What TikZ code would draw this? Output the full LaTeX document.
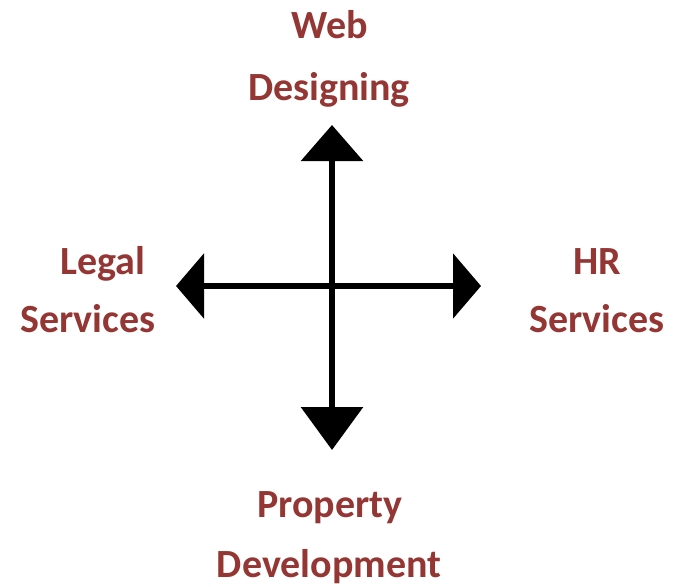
\documentclass[tikz,border=0pt]{standalone}
\usepackage{fontspec}
\setmainfont{Carlito}
\usetikzlibrary{arrows.meta}
\definecolor{lblred}{HTML}{943634}
\begin{document}
\begin{tikzpicture}[x=1pt,y=-1pt,
  lbl/.style={anchor=base,inner sep=0pt,text=lblred,font=\fontsize{40}{48}\selectfont\bfseries},
  axis/.style={line width=6.5pt,black}]
\useasboundingbox (0,0) rectangle (679,586);
\coordinate (c) at (332,286);
\coordinate (top) at (332,125);
\coordinate (bot) at (332,450);
\coordinate (lft) at (176,286);
\coordinate (rgt) at (481,286);
\draw[axis,-{Triangle[length=36pt,width=61pt]}] (c) -- (top);
\draw[axis,-{Triangle[length=43pt,width=61pt]}] (c) -- (bot);
\draw[axis,-{Triangle[length=28pt,width=64pt]}] (c) -- (lft);
\draw[axis,-{Triangle[length=28pt,width=64pt]}] (c) -- (rgt);
\node[lbl] (web1) at (330,39) {Web};
\node[lbl] (web2) at (329,100) {Designing};
\node[lbl] (leg1) at (103,274) {Legal};
\node[lbl] (leg2) at (88,332) {Services};
\node[lbl] (hr1) at (597,274) {HR};
\node[lbl] (hr2) at (597,332) {Services};
\node[lbl] (pr1) at (330,517) {Property};
\node[lbl] (pr2) at (329,577) {Development};
\end{tikzpicture}
\end{document}
